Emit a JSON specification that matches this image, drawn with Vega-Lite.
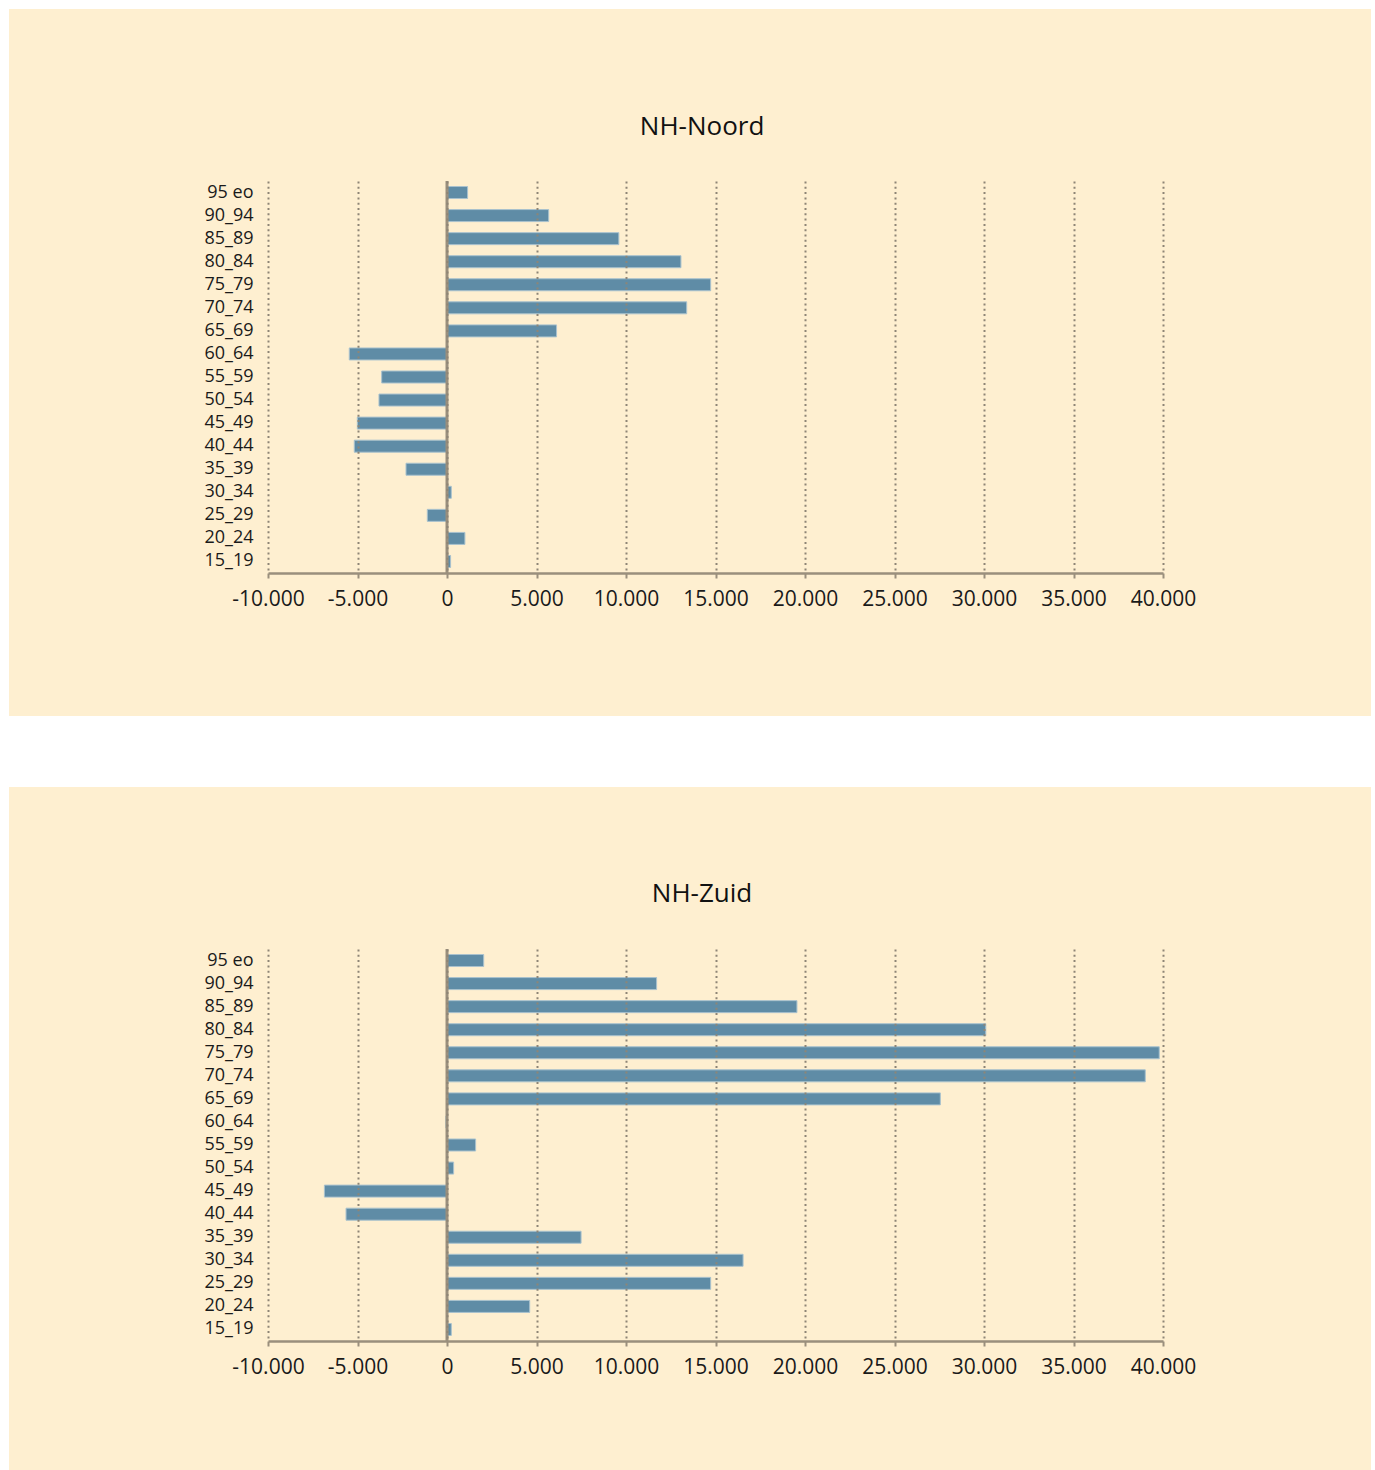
{
  "$schema": "https://vega.github.io/schema/vega-lite/v6.json",
  "background": "white",
  "padding": {"left": 8, "top": 8, "right": 5, "bottom": 0},
  "spacing": 69,
  "datasets": {
    "noord": [
      {"age": "95 eo", "value": 1150},
      {"age": "90_94", "value": 5680},
      {"age": "85_89", "value": 9600},
      {"age": "80_84", "value": 13070},
      {"age": "75_79", "value": 14730},
      {"age": "70_74", "value": 13390},
      {"age": "65_69", "value": 6120},
      {"age": "60_64", "value": -5460},
      {"age": "55_59", "value": -3650},
      {"age": "50_54", "value": -3800},
      {"age": "45_49", "value": -5010},
      {"age": "40_44", "value": -5180},
      {"age": "35_39", "value": -2290},
      {"age": "30_34", "value": 240},
      {"age": "25_29", "value": -1100},
      {"age": "20_24", "value": 1000},
      {"age": "15_19", "value": 200}
    ],
    "zuid": [
      {"age": "95 eo", "value": 2050},
      {"age": "90_94", "value": 11710},
      {"age": "85_89", "value": 19550},
      {"age": "80_84", "value": 30100},
      {"age": "75_79", "value": 39790},
      {"age": "70_74", "value": 39010},
      {"age": "65_69", "value": 27560},
      {"age": "60_64", "value": -60},
      {"age": "55_59", "value": 1600},
      {"age": "50_54", "value": 370},
      {"age": "45_49", "value": -6850},
      {"age": "40_44", "value": -5640},
      {"age": "35_39", "value": 7490},
      {"age": "30_34", "value": 16540},
      {"age": "25_29", "value": 14730},
      {"age": "20_24", "value": 4620},
      {"age": "15_19", "value": 240}
    ]
  },
  "vconcat": [
    {
      "width": 895,
      "height": 392,
      "resolve": {"scale": {"y": "independent"}, "axis": {"y": "independent"}},
      "layer": [
        {
          "data": {"values": [{"panel": "NH-Noord"}]},
          "mark": {"type": "rect", "fill": "#FEEFD0"},
          "encoding": {
            "x": {"datum": -24470, "type": "quantitative", "scale": {"domain": [-10000, 40000], "nice": false}, "axis": {"title": null, "zindex": 1, "grid": true, "gridDash": [2, 3.3], "gridColor": "#8E8576", "gridWidth": 2, "gridOpacity": 1, "values": [-10000, -5000, 0, 5000, 10000, 15000, 20000, 25000, 30000, 35000, 40000]}},
            "x2": {"datum": 51620},
            "y": {"datum": 1.43878, "type": "quantitative", "scale": {"domain": [0, 1], "nice": false, "zero": false}, "axis": null},
            "y2": {"datum": -0.3648}
          }
        },
        {
          "data": {"values": [{"panel": "NH-Noord"}]},
          "mark": {"type": "text", "font": "Open Sans", "fontSize": 26, "color": "#111111", "baseline": "middle", "align": "center"},
          "encoding": {
            "text": {"field": "panel"},
            "x": {"datum": 14250, "type": "quantitative", "scale": {"domain": [-10000, 40000], "nice": false}, "axis": {"title": null, "zindex": 1, "grid": true, "gridDash": [2, 3.3], "gridColor": "#8E8576", "gridWidth": 2, "gridOpacity": 1, "values": [-10000, -5000, 0, 5000, 10000, 15000, 20000, 25000, 30000, 35000, 40000]}},
            "y": {"datum": 1.138, "type": "quantitative", "scale": {"domain": [0, 1], "nice": false, "zero": false}, "axis": null}
          }
        },
        {
          "data": {"name": "noord"},
          "mark": {"type": "bar", "height": 12, "fill": "#5F8CA6", "stroke": "#A9C2CE", "strokeWidth": 1},
          "encoding": {
            "x": {"field": "value", "type": "quantitative", "scale": {"domain": [-10000, 40000], "nice": false}, "axis": {"title": null, "zindex": 1, "grid": true, "gridDash": [2, 3.3], "gridColor": "#8E8576", "gridWidth": 2, "gridOpacity": 1, "values": [-10000, -5000, 0, 5000, 10000, 15000, 20000, 25000, 30000, 35000, 40000]}},
            "y": {"field": "age", "type": "nominal", "sort": ["95 eo", "90_94", "85_89", "80_84", "75_79", "70_74", "65_69", "60_64", "55_59", "50_54", "45_49", "40_44", "35_39", "30_34", "25_29", "20_24", "15_19"], "scale": {"paddingInner": 0, "paddingOuter": 0}, "axis": {"title": null, "domain": false, "ticks": false, "grid": false, "zindex": 1, "labelPadding": 15, "labelFontSize": 18, "labelColor": "#1a1a1a", "labelFont": "Open Sans", "labelOverlap": false}}
          }
        },
        {
          "data": {"values": [{"panel": "NH-Noord"}]},
          "mark": {"type": "rule", "color": "#9A8F7D", "strokeWidth": 3},
          "encoding": {
            "x": {"datum": 0, "type": "quantitative", "scale": {"domain": [-10000, 40000], "nice": false}, "axis": {"title": null, "zindex": 1, "grid": true, "gridDash": [2, 3.3], "gridColor": "#8E8576", "gridWidth": 2, "gridOpacity": 1, "values": [-10000, -5000, 0, 5000, 10000, 15000, 20000, 25000, 30000, 35000, 40000]}}
          }
        }
      ]
    },
    {
      "width": 895,
      "height": 392,
      "resolve": {"scale": {"y": "independent"}, "axis": {"y": "independent"}},
      "layer": [
        {
          "data": {"values": [{"panel": "NH-Zuid"}]},
          "mark": {"type": "rect", "fill": "#FEEFD0"},
          "encoding": {
            "x": {"datum": -24470, "type": "quantitative", "scale": {"domain": [-10000, 40000], "nice": false}, "axis": {"title": null, "zindex": 1, "grid": true, "gridDash": [2, 3.3], "gridColor": "#8E8576", "gridWidth": 2, "gridOpacity": 1, "values": [-10000, -5000, 0, 5000, 10000, 15000, 20000, 25000, 30000, 35000, 40000]}},
            "x2": {"datum": 51620},
            "y": {"datum": 1.41327, "type": "quantitative", "scale": {"domain": [0, 1], "nice": false, "zero": false}, "axis": null},
            "y2": {"datum": -0.33673}
          }
        },
        {
          "data": {"values": [{"panel": "NH-Zuid"}]},
          "mark": {"type": "text", "font": "Open Sans", "fontSize": 26, "color": "#111111", "baseline": "middle", "align": "center"},
          "encoding": {
            "text": {"field": "panel"},
            "x": {"datum": 14250, "type": "quantitative", "scale": {"domain": [-10000, 40000], "nice": false}, "axis": {"title": null, "zindex": 1, "grid": true, "gridDash": [2, 3.3], "gridColor": "#8E8576", "gridWidth": 2, "gridOpacity": 1, "values": [-10000, -5000, 0, 5000, 10000, 15000, 20000, 25000, 30000, 35000, 40000]}},
            "y": {"datum": 1.1403, "type": "quantitative", "scale": {"domain": [0, 1], "nice": false, "zero": false}, "axis": null}
          }
        },
        {
          "data": {"name": "zuid"},
          "mark": {"type": "bar", "height": 12, "fill": "#5F8CA6", "stroke": "#A9C2CE", "strokeWidth": 1},
          "encoding": {
            "x": {"field": "value", "type": "quantitative", "scale": {"domain": [-10000, 40000], "nice": false}, "axis": {"title": null, "zindex": 1, "grid": true, "gridDash": [2, 3.3], "gridColor": "#8E8576", "gridWidth": 2, "gridOpacity": 1, "values": [-10000, -5000, 0, 5000, 10000, 15000, 20000, 25000, 30000, 35000, 40000]}},
            "y": {"field": "age", "type": "nominal", "sort": ["95 eo", "90_94", "85_89", "80_84", "75_79", "70_74", "65_69", "60_64", "55_59", "50_54", "45_49", "40_44", "35_39", "30_34", "25_29", "20_24", "15_19"], "scale": {"paddingInner": 0, "paddingOuter": 0}, "axis": {"title": null, "domain": false, "ticks": false, "grid": false, "zindex": 1, "labelPadding": 15, "labelFontSize": 18, "labelColor": "#1a1a1a", "labelFont": "Open Sans", "labelOverlap": false}}
          }
        },
        {
          "data": {"values": [{"panel": "NH-Zuid"}]},
          "mark": {"type": "rule", "color": "#9A8F7D", "strokeWidth": 3},
          "encoding": {
            "x": {"datum": 0, "type": "quantitative", "scale": {"domain": [-10000, 40000], "nice": false}, "axis": {"title": null, "zindex": 1, "grid": true, "gridDash": [2, 3.3], "gridColor": "#8E8576", "gridWidth": 2, "gridOpacity": 1, "values": [-10000, -5000, 0, 5000, 10000, 15000, 20000, 25000, 30000, 35000, 40000]}}
          }
        }
      ]
    }
  ],
  "config": {
    "view": {"stroke": null},
    "axisX": {
      "domainColor": "#9A8F7D",
      "domainWidth": 2.5,
      "tickColor": "#9A8F7D",
      "tickWidth": 2,
      "tickSize": 5,
      "labelFontSize": 21,
      "labelColor": "#1a1a1a",
      "labelFont": "Open Sans",
      "labelPadding": 10,
      "labelFlush": false,
      "labelOverlap": false,
      "labelExpr": "(datum.value < 0 ? '-' : '') + replace(format(abs(datum.value), ',d'), ',', '.')"
    }
  }
}
